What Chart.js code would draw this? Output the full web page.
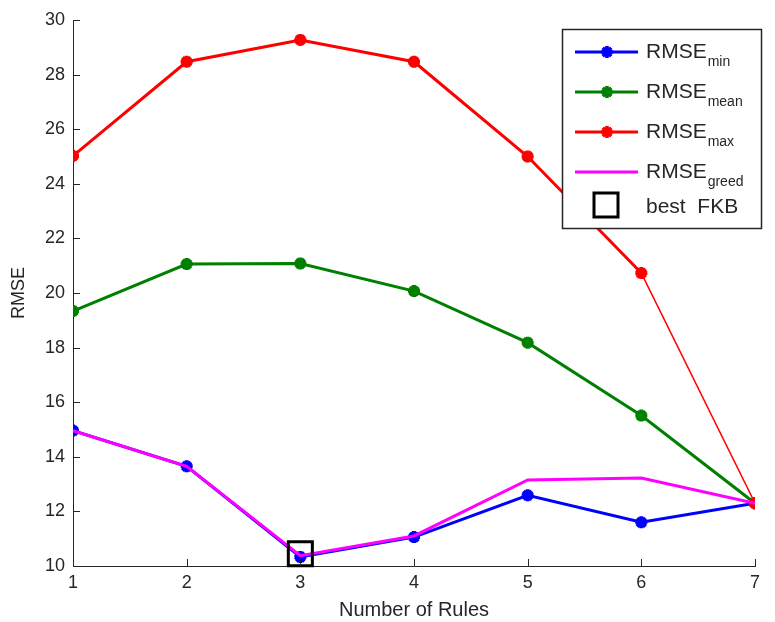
<!DOCTYPE html>
<html>
<head>
<meta charset="utf-8">
<script src="https://cdn.jsdelivr.net/npm/chart.js@4/dist/chart.umd.min.js"></script>
<style>
html,body{margin:0;padding:0;background:#fff;}
#wrap{position:relative;width:775px;height:622px;}
canvas{display:block;}
</style>
</head>
<body>
<div id="wrap"><canvas id="c" width="775" height="622"></canvas></div>
<script>
// ---- data ----
const rules = [1, 2, 3, 4, 5, 6, 7];
const rmseMin   = [14.96, 13.65, 10.33, 11.06, 12.59, 11.60, 12.30];
const rmseMean  = [19.34, 21.06, 21.08, 20.07, 18.18, 15.51, 12.30];
const rmseMax   = [25.02, 28.47, 29.27, 28.47, 25.00, 20.73, 12.30];
const rmseGreed = [14.96, 13.65, 10.38, 11.10, 13.15, 13.22, 12.30];
const bestFkbRule  = [3];
const bestFkbValue = [10.45];
const xTickValues = [1, 2, 3, 4, 5, 6, 7];
const yTickValues = [10, 12, 14, 16, 18, 20, 22, 24, 26, 28, 30];
const legendLabels = [
  {base: 'RMSE', sub: 'min'},
  {base: 'RMSE', sub: 'mean'},
  {base: 'RMSE', sub: 'max'},
  {base: 'RMSE', sub: 'greed'},
  {base: 'best  FKB', sub: ''}
];

const FONT = "'Liberation Sans', Arial, sans-serif";
const TXT = '#262626';
const BLUE = '#0000ff', GREEN = '#008000', RED = '#ff0000', MAG = '#ff00ff';

const toPts = (ys) => rules.map((x, i) => ({x: x, y: ys[i]}));

const innerTicks = {
  id: 'innerTicks',
  afterDraw(chart) {
    const ctx = chart.ctx, xs = chart.scales.x, ys = chart.scales.y;
    const a = chart.chartArea;
    ctx.save();
    ctx.strokeStyle = TXT;
    ctx.lineWidth = 1;
    ctx.beginPath();
    yTickValues.forEach(v => {
      const py = Math.round(ys.getPixelForValue(v)) + 0.5;
      ctx.moveTo(a.left, py); ctx.lineTo(a.left + 7, py);
    });
    xTickValues.forEach(v => {
      const px = Math.round(xs.getPixelForValue(v)) + 0.5;
      ctx.moveTo(px, a.bottom); ctx.lineTo(px, a.bottom - 7);
    });
    ctx.stroke();
    ctx.restore();
  }
};

const customLegend = {
  id: 'customLegend',
  afterDraw(chart) {
    const ctx = chart.ctx;
    const bx = 562, by = 29, bw = 199, bh = 199;
    ctx.save();
    ctx.fillStyle = '#fff';
    ctx.fillRect(bx, by, bw, bh);
    ctx.strokeStyle = TXT;
    ctx.lineWidth = 1.5;
    ctx.strokeRect(bx + 0.5, by + 0.5, bw, bh);
    const colors = [BLUE, GREEN, RED, MAG];
    const rowsY = [52, 92, 132, 172];
    for (let i = 0; i < 4; i++) {
      const y = rowsY[i];
      ctx.strokeStyle = colors[i];
      ctx.lineWidth = 3;
      ctx.beginPath();
      ctx.moveTo(575, y); ctx.lineTo(638, y);
      ctx.stroke();
      if (i < 3) {
        ctx.fillStyle = colors[i];
        ctx.strokeStyle = colors[i];
        ctx.lineWidth = 3.5;
        Chart.helpers.drawPoint(ctx, {pointStyle: 'star', radius: 6, rotation: 0, borderWidth: 3.5}, 607, y);
        ctx.beginPath(); ctx.arc(607, y, 4.5, 0, Math.PI * 2); ctx.fill();
      }
      ctx.fillStyle = TXT;
      ctx.textBaseline = 'alphabetic';
      ctx.textAlign = 'left';
      ctx.font = '21px ' + FONT;
      ctx.fillText(legendLabels[i].base, 646, y + 6);
      const w = ctx.measureText(legendLabels[i].base).width;
      ctx.font = '14px ' + FONT;
      ctx.fillText(legendLabels[i].sub, 646 + w + 1, y + 13.5);
    }
    // best FKB
    ctx.strokeStyle = '#000';
    ctx.lineWidth = 3;
    ctx.strokeRect(594, 193, 24, 24);
    ctx.fillStyle = TXT;
    ctx.font = '21px ' + FONT;
    ctx.fillText(legendLabels[4].base, 646, 213);
    ctx.restore();
  }
};

new Chart(document.getElementById('c'), {
  type: 'line',
  data: {
    datasets: [
      {label: 'RMSEmin', data: toPts(rmseMin), borderColor: BLUE, backgroundColor: BLUE,
       borderWidth: 3, pointStyle: 'star', pointRadius: 6, pointBorderWidth: 4, order: 4},
      {label: 'RMSEmean', data: toPts(rmseMean), borderColor: GREEN, backgroundColor: GREEN,
       borderWidth: 3, pointStyle: 'star', pointRadius: 6, pointBorderWidth: 4, order: 3},
      {label: 'RMSEmax', data: toPts(rmseMax), borderColor: RED, backgroundColor: RED,
       borderWidth: 3, pointStyle: 'star', pointRadius: 6, pointBorderWidth: 4, order: 2,
       segment: {borderWidth: c => (c.p0DataIndex === 5 ? 1.5 : 3)}},
      {label: 'RMSEgreed', data: toPts(rmseGreed), borderColor: MAG, backgroundColor: MAG,
       borderWidth: 3, pointRadius: 0, order: 1},
      {label: 'best FKB', data: bestFkbRule.map((x, i) => ({x: x, y: bestFkbValue[i]})),
       showLine: false, borderColor: '#000', backgroundColor: 'rgba(0,0,0,0)',
       pointStyle: 'rect', pointRadius: 17, pointBorderWidth: 3, order: 0, clip: false}
    ]
  },
  options: {
    responsive: false,
    animation: false,
    devicePixelRatio: 1,
    layout: {padding: {top: 18, right: 7, left: 0, bottom: 0}},
    plugins: {legend: {display: false}, tooltip: {enabled: false}},
    elements: {line: {tension: 0}},
    scales: {
      x: {
        type: 'linear', min: 1, max: 7,
        afterFit: s => { s.height = 56; },
        afterBuildTicks: s => { s.ticks = xTickValues.map(v => ({value: v})); },
        ticks: {font: {size: 18, family: FONT}, color: TXT, padding: 6, maxRotation: 0},
        grid: {display: false, drawTicks: false},
        border: {display: true, color: TXT, width: 1},
        title: {display: true, text: 'Number of Rules', font: {size: 20, family: FONT}, color: TXT, padding: 0}
      },
      y: {
        type: 'linear', min: 10, max: 30,
        afterFit: s => { s.width = 73; },
        afterBuildTicks: s => { s.ticks = yTickValues.map(v => ({value: v})); },
        ticks: {font: {size: 18, family: FONT}, color: TXT, padding: 8},
        grid: {display: false, drawTicks: false},
        border: {display: true, color: TXT, width: 1},
        title: {display: true, text: 'RMSE', font: {size: 18, family: FONT}, color: TXT, padding: {top: 8, bottom: 0}}
      }
    }
  },
  plugins: [innerTicks, customLegend]
});
</script>
</body>
</html>
